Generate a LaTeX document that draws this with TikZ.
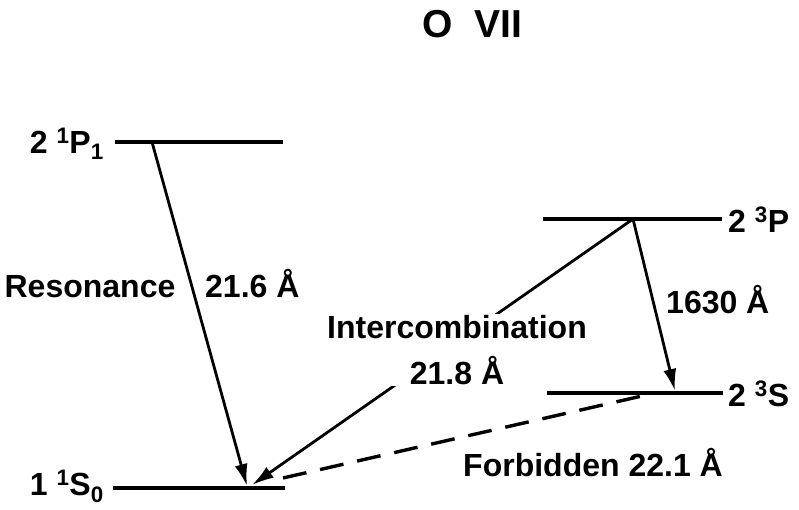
\documentclass[tikz,border=0pt]{standalone}
\usepackage{fontspec}
\setmainfont{Liberation Sans}
\usetikzlibrary{arrows.meta,positioning}
\tikzset{
  level/.style={line width=4pt},
  trans/.style={line width=2.8pt,-{Latex[length=22pt,width=13pt]}},
  forbid/.style={line width=3.4pt,dash pattern=on 24pt off 14pt},
  lbl/.style={font=\fontsize{32}{46}\selectfont\bfseries,inner sep=0pt},
}
\begin{document}
\begin{tikzpicture}[x=1pt,y=-1pt]
  \useasboundingbox (0,0) rectangle (799,509);
  % levels
  \coordinate (p1a) at (115,142); \coordinate (p1b) at (283,142);
  \coordinate (p3a) at (543,219); \coordinate (p3b) at (722,219);
  \coordinate (s3a) at (547,393); \coordinate (s3b) at (723,393);
  \coordinate (s0a) at (113,488); \coordinate (s0b) at (285,488);
  \draw[level] (p1a) -- (p1b);
  \draw[level] (p3a) -- (p3b);
  \draw[level] (s3a) -- (s3b);
  \draw[level] (s0a) -- (s0b);
  % transitions
  \coordinate (p1x) at (152,142);
  \coordinate (p3x) at (633,219);
  \coordinate (s3x) at (675,391);
  \coordinate (s3y) at (655,393);
  \coordinate (s0x) at (247,486);
  \coordinate (s0y) at (252,485);
  \coordinate (s0z) at (283,478);
  \draw[trans] (p1x) -- (s0x);
  \draw[trans] (p3x) -- (s0y);
  \draw[trans] (p3x) -- (s3x);
  \draw[forbid] (s0z) -- (s3y);
  % labels
  \node[lbl,font=\fontsize{39}{46}\selectfont\bfseries] (title) at (472,24) {O\ \ VII};
  \node[lbl,anchor=base east] (p1lab) at (104,153) {2\ \textsuperscript{1}P\textsubscript{1}};
  \node[lbl,anchor=base west] (p3lab) at (728,232) {2\ \textsuperscript{3}P};
  \node[lbl,anchor=base west] (s3lab) at (728,406) {2\ \textsuperscript{3}S};
  \node[lbl,anchor=base east] (s0lab) at (104,495) {1\ \textsuperscript{1}S\textsubscript{0}};
  \node[lbl,anchor=base] (reslab) at (90,297) {Resonance};
  \node[lbl,anchor=base west] (reswl) at (205,297) {21.6 Å};
  \node[lbl,anchor=base west] (tripwl) at (666,313) {1630 Å};
  \node[lbl,fill=white,inner sep=1pt,align=center] (intlab) at (457,350) {Intercombination\\21.8 Å};
  \node[lbl,anchor=base west] (forlab) at (463,476) {Forbidden 22.1 Å};
\end{tikzpicture}
\end{document}
